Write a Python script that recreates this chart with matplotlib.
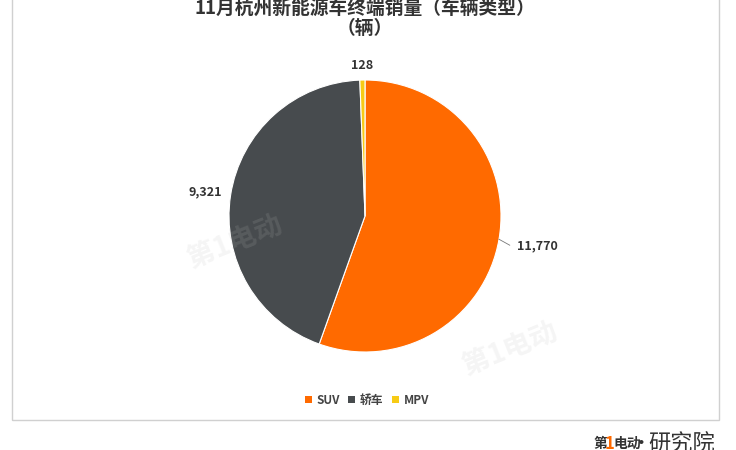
import numpy as np
import matplotlib.pyplot as plt
from matplotlib.patches import Patch, Rectangle

plt.rcParams['font.family'] = ['Noto Sans CJK SC', 'DejaVu Sans']

# data
categories = ['SUV', '轿车', 'MPV']
sales = [11770, 9321, 128]
colors = ['#FF6A00', '#474B4E', '#F7CB15']
label_radius = [1.29, 1.19, 1.11]

W, H = 736, 450
fig = plt.figure(figsize=(W / 100, H / 100), dpi=100)
fig.patch.set_facecolor('white')

# outer panel border (top runs past the picture)
fig.patches.append(Rectangle((12 / W, 1 - 420 / H), (719 - 12) / W, 430 / H,
                             transform=fig.transFigure, fill=False,
                             edgecolor='#d0d0d0', linewidth=1))

# pie axes: centre (365, 216) px, radius 136 px
R = 136
span = 1.6
cx, cy = 365, 216
ax = fig.add_axes([(cx - R * span) / W, (H - cy - R * span) / H,
                   2 * R * span / W, 2 * R * span / H])

wedges, _ = ax.pie(sales, colors=colors, startangle=90, counterclock=False,
                   radius=1, wedgeprops=dict(edgecolor='white', linewidth=0.8))
ax.set_xlim(-span, span)
ax.set_ylim(-span, span)
ax.set_aspect('equal')
ax.axis('off')

for i, w in enumerate(wedges):
    mid = np.deg2rad((w.theta1 + w.theta2) / 2)
    r = label_radius[i]
    x, y = r * np.cos(mid), r * np.sin(mid)
    ax.text(x, y, f'{sales[i]:,}', ha='center', va='center', fontsize=9,
            fontweight='bold', color='#333333')
    if i == 0:
        # short leader line for the big slice
        ax.plot([np.cos(mid), 1.08 * np.cos(mid)],
                [np.sin(mid), 1.08 * np.sin(mid) - 0.03],
                color='#777777', linewidth=0.6)

# title
fig.text(cx / W, 1 - 8 / H, '11月杭州新能源车终端销量（车辆类型）', ha='center', va='center',
         fontsize=13.5, fontweight='bold', color='#333333')
fig.text(cx / W, 1 - 29 / H, '（辆）', ha='center', va='center',
         fontsize=13.5, fontweight='bold', color='#333333')

# legend
handles = [Patch(facecolor=c, edgecolor='none') for c in colors]
fig.legend(handles, categories, loc='center', bbox_to_anchor=(367 / W, 1 - 400 / H),
           ncol=3, frameon=False, handlelength=0.6, handleheight=0.6,
           handletextpad=0.4, columnspacing=0.7,
           prop=dict(size=8.5, weight='bold'), labelcolor='#444444')

# faint watermarks
fig.text(235 / W, 1 - 243 / H, '第1电动', ha='center', va='center', fontsize=20,
         fontweight='bold', color='#bbbbbb', alpha=0.15, rotation=22)
fig.text(510 / W, 1 - 350 / H, '第1电动', ha='center', va='center', fontsize=20,
         fontweight='bold', color='#bbbbbb', alpha=0.15, rotation=22)

# logo bottom right, cut by the edge
fig.text(593 / W, 1 - 437 / H, '第', ha='left', va='top', fontsize=10,
         fontweight='bold', color='#333333')
fig.text(605 / W, 1 - 435 / H, '1', ha='left', va='top', fontsize=12,
         fontweight='bold', color='#FF6A00', style='italic')
fig.text(613 / W, 1 - 437 / H, '电动', ha='left', va='top', fontsize=10,
         fontweight='bold', color='#333333')
fig.text(641 / W, 1 - 443 / H, '·', ha='center', va='center', fontsize=12,
         fontweight='bold', color='#333333')
fig.text(648 / W, 1 - 433 / H, '研究院', ha='left', va='top', fontsize=16,
         color='#333333')

fig.savefig('out.png', dpi=100)
